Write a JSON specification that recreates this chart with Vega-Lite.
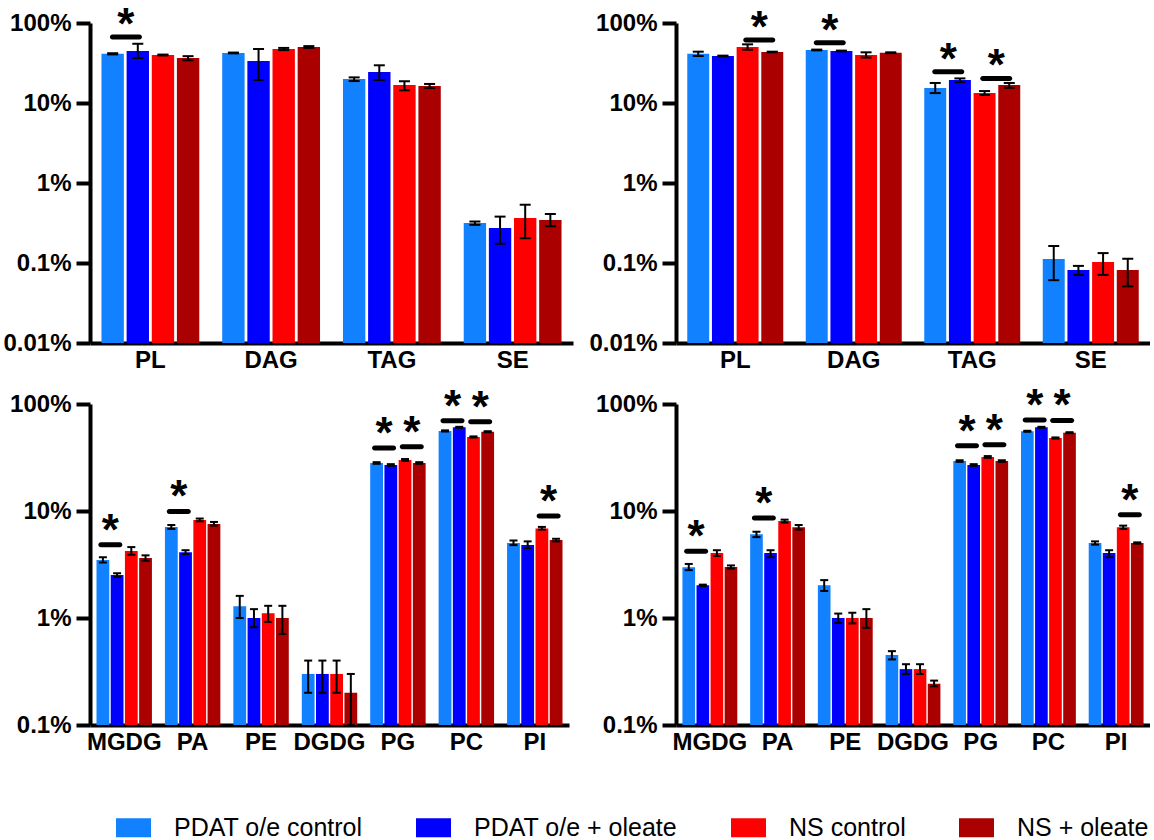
{
  "$schema": "https://vega.github.io/schema/vega-lite/v6.json",
  "padding": {"left": 2, "top": 4, "right": 0, "bottom": 0},
  "datasets": {
    "bars": [
      {"panel": "A", "cls": "PL", "cond": "PDAT o/e control", "v": 41.2, "lo": 40.5, "hi": 41.9},
      {"panel": "A", "cls": "PL", "cond": "PDAT o/e + oleate", "v": 44.6, "lo": 36.5, "hi": 55},
      {"panel": "A", "cls": "PL", "cond": "NS control", "v": 39.8, "lo": 39.3, "hi": 40.3},
      {"panel": "A", "cls": "PL", "cond": "NS + oleate", "v": 36.5, "lo": 34.2, "hi": 38.5},
      {"panel": "A", "cls": "DAG", "cond": "PDAT o/e control", "v": 42.2, "lo": 41.7, "hi": 42.7},
      {"panel": "A", "cls": "DAG", "cond": "PDAT o/e + oleate", "v": 33.5, "lo": 19.4, "hi": 47.3},
      {"panel": "A", "cls": "DAG", "cond": "NS control", "v": 47.3, "lo": 45.8, "hi": 48.8},
      {"panel": "A", "cls": "DAG", "cond": "NS + oleate", "v": 50.1, "lo": 48.8, "hi": 51.4},
      {"panel": "A", "cls": "TAG", "cond": "PDAT o/e control", "v": 20, "lo": 18.8, "hi": 20.9},
      {"panel": "A", "cls": "TAG", "cond": "PDAT o/e + oleate", "v": 24.4, "lo": 19.4, "hi": 29.6},
      {"panel": "A", "cls": "TAG", "cond": "NS control", "v": 16.8, "lo": 14.4, "hi": 18.7},
      {"panel": "A", "cls": "TAG", "cond": "NS + oleate", "v": 16.3, "lo": 15.4, "hi": 17.3},
      {"panel": "A", "cls": "SE", "cond": "PDAT o/e control", "v": 0.316, "lo": 0.3, "hi": 0.33},
      {"panel": "A", "cls": "SE", "cond": "PDAT o/e + oleate", "v": 0.274, "lo": 0.174, "hi": 0.38},
      {"panel": "A", "cls": "SE", "cond": "NS control", "v": 0.365, "lo": 0.204, "hi": 0.535},
      {"panel": "A", "cls": "SE", "cond": "NS + oleate", "v": 0.345, "lo": 0.288, "hi": 0.41},

      {"panel": "B", "cls": "PL", "cond": "PDAT o/e control", "v": 41.3, "lo": 38.7, "hi": 43.8},
      {"panel": "B", "cls": "PL", "cond": "PDAT o/e + oleate", "v": 38.7, "lo": 38.3, "hi": 39.1},
      {"panel": "B", "cls": "PL", "cond": "NS control", "v": 50.1, "lo": 46.3, "hi": 54.1},
      {"panel": "B", "cls": "PL", "cond": "NS + oleate", "v": 43.4, "lo": 43, "hi": 43.8},
      {"panel": "B", "cls": "DAG", "cond": "PDAT o/e control", "v": 46, "lo": 45.5, "hi": 46.5},
      {"panel": "B", "cls": "DAG", "cond": "PDAT o/e + oleate", "v": 44.7, "lo": 44.2, "hi": 45.2},
      {"panel": "B", "cls": "DAG", "cond": "NS control", "v": 39.8, "lo": 37, "hi": 43},
      {"panel": "B", "cls": "DAG", "cond": "NS + oleate", "v": 42.5, "lo": 42, "hi": 43},
      {"panel": "B", "cls": "TAG", "cond": "PDAT o/e control", "v": 15.4, "lo": 13.3, "hi": 17.8},
      {"panel": "B", "cls": "TAG", "cond": "PDAT o/e + oleate", "v": 19.4, "lo": 18.3, "hi": 20.3},
      {"panel": "B", "cls": "TAG", "cond": "NS control", "v": 13.3, "lo": 12.6, "hi": 14.1},
      {"panel": "B", "cls": "TAG", "cond": "NS + oleate", "v": 16.8, "lo": 15.5, "hi": 17.8},
      {"panel": "B", "cls": "SE", "cond": "PDAT o/e control", "v": 0.112, "lo": 0.061, "hi": 0.163},
      {"panel": "B", "cls": "SE", "cond": "PDAT o/e + oleate", "v": 0.082, "lo": 0.071, "hi": 0.092},
      {"panel": "B", "cls": "SE", "cond": "NS control", "v": 0.103, "lo": 0.071, "hi": 0.133},
      {"panel": "B", "cls": "SE", "cond": "NS + oleate", "v": 0.082, "lo": 0.051, "hi": 0.113},

      {"panel": "C", "cls": "MGDG", "cond": "PDAT o/e control", "v": 3.48, "lo": 3.3, "hi": 3.7},
      {"panel": "C", "cls": "MGDG", "cond": "PDAT o/e + oleate", "v": 2.52, "lo": 2.42, "hi": 2.62},
      {"panel": "C", "cls": "MGDG", "cond": "NS control", "v": 4.23, "lo": 3.9, "hi": 4.6},
      {"panel": "C", "cls": "MGDG", "cond": "NS + oleate", "v": 3.64, "lo": 3.43, "hi": 3.85},
      {"panel": "C", "cls": "PA", "cond": "PDAT o/e control", "v": 7.08, "lo": 6.8, "hi": 7.4},
      {"panel": "C", "cls": "PA", "cond": "PDAT o/e + oleate", "v": 4.11, "lo": 3.96, "hi": 4.3},
      {"panel": "C", "cls": "PA", "cond": "NS control", "v": 8.24, "lo": 8, "hi": 8.5},
      {"panel": "C", "cls": "PA", "cond": "NS + oleate", "v": 7.57, "lo": 7.3, "hi": 7.9},
      {"panel": "C", "cls": "PE", "cond": "PDAT o/e control", "v": 1.29, "lo": 1, "hi": 1.61},
      {"panel": "C", "cls": "PE", "cond": "PDAT o/e + oleate", "v": 1, "lo": 0.82, "hi": 1.21},
      {"panel": "C", "cls": "PE", "cond": "NS control", "v": 1.11, "lo": 0.92, "hi": 1.3},
      {"panel": "C", "cls": "PE", "cond": "NS + oleate", "v": 1, "lo": 0.71, "hi": 1.3},
      {"panel": "C", "cls": "DGDG", "cond": "PDAT o/e control", "v": 0.3, "lo": 0.2, "hi": 0.4},
      {"panel": "C", "cls": "DGDG", "cond": "PDAT o/e + oleate", "v": 0.3, "lo": 0.2, "hi": 0.4},
      {"panel": "C", "cls": "DGDG", "cond": "NS control", "v": 0.3, "lo": 0.2, "hi": 0.4},
      {"panel": "C", "cls": "DGDG", "cond": "NS + oleate", "v": 0.2, "lo": 0.1, "hi": 0.3},
      {"panel": "C", "cls": "PG", "cond": "PDAT o/e control", "v": 28.1, "lo": 27.6, "hi": 28.6},
      {"panel": "C", "cls": "PG", "cond": "PDAT o/e + oleate", "v": 26.9, "lo": 26.4, "hi": 27.4},
      {"panel": "C", "cls": "PG", "cond": "NS control", "v": 30, "lo": 29.4, "hi": 30.6},
      {"panel": "C", "cls": "PG", "cond": "NS + oleate", "v": 28.1, "lo": 27.6, "hi": 28.6},
      {"panel": "C", "cls": "PC", "cond": "PDAT o/e control", "v": 56, "lo": 55.3, "hi": 56.7},
      {"panel": "C", "cls": "PC", "cond": "PDAT o/e + oleate", "v": 60.5, "lo": 59.8, "hi": 61.2},
      {"panel": "C", "cls": "PC", "cond": "NS control", "v": 49.2, "lo": 48.6, "hi": 49.8},
      {"panel": "C", "cls": "PC", "cond": "NS + oleate", "v": 55.1, "lo": 54.5, "hi": 55.7},
      {"panel": "C", "cls": "PI", "cond": "PDAT o/e control", "v": 5.02, "lo": 4.8, "hi": 5.3},
      {"panel": "C", "cls": "PI", "cond": "PDAT o/e + oleate", "v": 4.81, "lo": 4.5, "hi": 5.2},
      {"panel": "C", "cls": "PI", "cond": "NS control", "v": 6.88, "lo": 6.7, "hi": 7.1},
      {"panel": "C", "cls": "PI", "cond": "NS + oleate", "v": 5.36, "lo": 5.2, "hi": 5.5},

      {"panel": "D", "cls": "MGDG", "cond": "PDAT o/e control", "v": 2.98, "lo": 2.8, "hi": 3.2},
      {"panel": "D", "cls": "MGDG", "cond": "PDAT o/e + oleate", "v": 2.02, "lo": 1.99, "hi": 2.05},
      {"panel": "D", "cls": "MGDG", "cond": "NS control", "v": 4.05, "lo": 3.8, "hi": 4.3},
      {"panel": "D", "cls": "MGDG", "cond": "NS + oleate", "v": 3, "lo": 2.9, "hi": 3.1},
      {"panel": "D", "cls": "PA", "cond": "PDAT o/e control", "v": 6.05, "lo": 5.7, "hi": 6.4},
      {"panel": "D", "cls": "PA", "cond": "PDAT o/e + oleate", "v": 4.05, "lo": 3.7, "hi": 4.3},
      {"panel": "D", "cls": "PA", "cond": "NS control", "v": 8.07, "lo": 7.8, "hi": 8.3},
      {"panel": "D", "cls": "PA", "cond": "NS + oleate", "v": 7.05, "lo": 6.7, "hi": 7.4},
      {"panel": "D", "cls": "PE", "cond": "PDAT o/e control", "v": 2.02, "lo": 1.79, "hi": 2.26},
      {"panel": "D", "cls": "PE", "cond": "PDAT o/e + oleate", "v": 1, "lo": 0.9, "hi": 1.1},
      {"panel": "D", "cls": "PE", "cond": "NS control", "v": 1, "lo": 0.89, "hi": 1.12},
      {"panel": "D", "cls": "PE", "cond": "NS + oleate", "v": 1, "lo": 0.81, "hi": 1.21},
      {"panel": "D", "cls": "DGDG", "cond": "PDAT o/e control", "v": 0.45, "lo": 0.41, "hi": 0.49},
      {"panel": "D", "cls": "DGDG", "cond": "PDAT o/e + oleate", "v": 0.333, "lo": 0.3, "hi": 0.37},
      {"panel": "D", "cls": "DGDG", "cond": "NS control", "v": 0.333, "lo": 0.3, "hi": 0.37},
      {"panel": "D", "cls": "DGDG", "cond": "NS + oleate", "v": 0.243, "lo": 0.23, "hi": 0.26},
      {"panel": "D", "cls": "PG", "cond": "PDAT o/e control", "v": 29.3, "lo": 28.8, "hi": 29.8},
      {"panel": "D", "cls": "PG", "cond": "PDAT o/e + oleate", "v": 26.9, "lo": 26.4, "hi": 27.4},
      {"panel": "D", "cls": "PG", "cond": "NS control", "v": 32, "lo": 31.4, "hi": 32.6},
      {"panel": "D", "cls": "PG", "cond": "NS + oleate", "v": 29.3, "lo": 28.8, "hi": 29.8},
      {"panel": "D", "cls": "PC", "cond": "PDAT o/e control", "v": 55.6, "lo": 55, "hi": 56.2},
      {"panel": "D", "cls": "PC", "cond": "PDAT o/e + oleate", "v": 60.5, "lo": 59.8, "hi": 61.2},
      {"panel": "D", "cls": "PC", "cond": "NS control", "v": 48.1, "lo": 47.5, "hi": 48.7},
      {"panel": "D", "cls": "PC", "cond": "NS + oleate", "v": 53.9, "lo": 53.3, "hi": 54.5},
      {"panel": "D", "cls": "PI", "cond": "PDAT o/e control", "v": 5.02, "lo": 4.85, "hi": 5.2},
      {"panel": "D", "cls": "PI", "cond": "PDAT o/e + oleate", "v": 4.05, "lo": 3.7, "hi": 4.3},
      {"panel": "D", "cls": "PI", "cond": "NS control", "v": 7.05, "lo": 6.8, "hi": 7.3},
      {"panel": "D", "cls": "PI", "cond": "NS + oleate", "v": 5.02, "lo": 4.95, "hi": 5.09}
    ],
    "sig": [
      {"panel": "A", "cls": "PL", "pair": "a", "yb": 66.8},
      {"panel": "B", "cls": "PL", "pair": "b", "yb": 61.3},
      {"panel": "B", "cls": "DAG", "pair": "a", "yb": 56.7},
      {"panel": "B", "cls": "TAG", "pair": "a", "yb": 24.6},
      {"panel": "B", "cls": "TAG", "pair": "b", "yb": 20.3},
      {"panel": "C", "cls": "MGDG", "pair": "a", "yb": 4.84},
      {"panel": "C", "cls": "PA", "pair": "a", "yb": 9.9},
      {"panel": "C", "cls": "PG", "pair": "a", "yb": 38.8},
      {"panel": "C", "cls": "PG", "pair": "b", "yb": 39.9},
      {"panel": "C", "cls": "PC", "pair": "a", "yb": 69.8},
      {"panel": "C", "cls": "PC", "pair": "b", "yb": 68.4},
      {"panel": "C", "cls": "PI", "pair": "b", "yb": 8.98},
      {"panel": "D", "cls": "MGDG", "pair": "a", "yb": 4.2},
      {"panel": "D", "cls": "PA", "pair": "a", "yb": 8.6},
      {"panel": "D", "cls": "PG", "pair": "a", "yb": 40.8},
      {"panel": "D", "cls": "PG", "pair": "b", "yb": 41.7},
      {"panel": "D", "cls": "PC", "pair": "a", "yb": 70.8},
      {"panel": "D", "cls": "PC", "pair": "b", "yb": 70.3},
      {"panel": "D", "cls": "PI", "pair": "b", "yb": 9.2}
    ]
  },
  "columns": 1,
  "align": "none",
  "spacing": 13,
  "concat": [
    {
      "bounds": "flush",
      "spacing": 103,
      "hconcat": [
        {
          "width": 483, "height": 320,
          "layer": [
            {
              "data": {"name": "bars"},
              "transform": [{"filter": "datum.panel === 'A'"}],
              "encoding": {
                "x": {"field": "cls", "type": "nominal", "title": null, "scale": {"domain": ["PL", "DAG", "TAG", "SE"], "paddingInner": 0.19, "paddingOuter": 0.095}},
                "xOffset": {"field": "cond", "type": "nominal", "scale": {"domain": ["PDAT o/e control", "PDAT o/e + oleate", "NS control", "NS + oleate"], "paddingInner": 0.11, "paddingOuter": 0}}
              },
              "layer": [
                {"mark": {"type": "bar"}, "encoding": {
                  "y": {"field": "v", "type": "quantitative", "title": null, "stack": null, "scale": {"type": "log", "domain": [0.01, 100], "nice": false}, "axis": {"values": [0.01, 0.1, 1, 10, 100], "labelExpr": "datum.value + '%'"}},
                  "color": {"field": "cond", "type": "nominal", "scale": {"domain": ["PDAT o/e control", "PDAT o/e + oleate", "NS control", "NS + oleate"], "range": ["#1181FF", "#0000FF", "#FF0000", "#AA0000"]}, "legend": {"orient": "none", "legendX": 23, "legendY": 792, "direction": "horizontal", "columns": 4, "title": null, "symbolType": "M-1,-1H2.684V1H-1Z", "symbolSize": 361, "symbolStrokeWidth": 0, "symbolOpacity": 1, "labelFont": "Liberation Sans", "labelFontSize": 25, "labelColor": "black", "labelOffset": 36, "columnPadding": 50, "labelLimit": 400, "padding": 0}}
                }},
                {"mark": {"type": "rule", "color": "black", "strokeWidth": 2}, "encoding": {"y": {"field": "lo", "type": "quantitative", "title": null}, "y2": {"field": "hi"}}},
                {"mark": {"type": "tick", "color": "black", "thickness": 2, "size": 11, "opacity": 1}, "encoding": {"y": {"field": "lo", "type": "quantitative", "title": null}}},
                {"mark": {"type": "tick", "color": "black", "thickness": 2, "size": 11, "opacity": 1}, "encoding": {"y": {"field": "hi", "type": "quantitative", "title": null}}}
              ]
            },
            {
              "data": {"name": "sig"},
              "transform": [{"filter": "datum.panel === 'A'"}],
              "encoding": {
                "x": {"field": "cls", "type": "nominal", "title": null},
                "xOffset": {"field": "pair", "type": "nominal", "scale": {"domain": ["a", "b"], "paddingInner": 0, "paddingOuter": 0}},
                "y": {"field": "yb", "type": "quantitative", "title": null}
              },
              "layer": [
                {"mark": {"type": "tick", "color": "black", "thickness": 5, "size": 32, "cornerRadius": 2.5, "opacity": 1}},
                {"mark": {"type": "text", "text": "*", "font": "Liberation Sans", "fontWeight": "bold", "fontSize": 44, "baseline": "alphabetic", "dy": 2, "color": "black"}}
              ]
            }
          ],
          "resolve": {"scale": {"xOffset": "independent"}}
        },
        {
          "width": 474, "height": 320,
          "layer": [
            {
              "data": {"name": "bars"},
              "transform": [{"filter": "datum.panel === 'B'"}],
              "encoding": {
                "x": {"field": "cls", "type": "nominal", "title": null, "scale": {"domain": ["PL", "DAG", "TAG", "SE"], "paddingInner": 0.19, "paddingOuter": 0.095}},
                "xOffset": {"field": "cond", "type": "nominal", "scale": {"domain": ["PDAT o/e control", "PDAT o/e + oleate", "NS control", "NS + oleate"], "paddingInner": 0.11, "paddingOuter": 0}}
              },
              "layer": [
                {"mark": {"type": "bar"}, "encoding": {
                  "y": {"field": "v", "type": "quantitative", "title": null, "stack": null, "scale": {"type": "log", "domain": [0.01, 100], "nice": false}, "axis": {"values": [0.01, 0.1, 1, 10, 100], "labelExpr": "datum.value + '%'"}},
                  "color": {"field": "cond", "type": "nominal", "scale": {"domain": ["PDAT o/e control", "PDAT o/e + oleate", "NS control", "NS + oleate"], "range": ["#1181FF", "#0000FF", "#FF0000", "#AA0000"]}, "legend": {"orient": "none", "legendX": 23, "legendY": 792, "direction": "horizontal", "columns": 4, "title": null, "symbolType": "M-1,-1H2.684V1H-1Z", "symbolSize": 361, "symbolStrokeWidth": 0, "symbolOpacity": 1, "labelFont": "Liberation Sans", "labelFontSize": 25, "labelColor": "black", "labelOffset": 36, "columnPadding": 50, "labelLimit": 400, "padding": 0}}
                }},
                {"mark": {"type": "rule", "color": "black", "strokeWidth": 2}, "encoding": {"y": {"field": "lo", "type": "quantitative", "title": null}, "y2": {"field": "hi"}}},
                {"mark": {"type": "tick", "color": "black", "thickness": 2, "size": 11, "opacity": 1}, "encoding": {"y": {"field": "lo", "type": "quantitative", "title": null}}},
                {"mark": {"type": "tick", "color": "black", "thickness": 2, "size": 11, "opacity": 1}, "encoding": {"y": {"field": "hi", "type": "quantitative", "title": null}}}
              ]
            },
            {
              "data": {"name": "sig"},
              "transform": [{"filter": "datum.panel === 'B'"}],
              "encoding": {
                "x": {"field": "cls", "type": "nominal", "title": null},
                "xOffset": {"field": "pair", "type": "nominal", "scale": {"domain": ["a", "b"], "paddingInner": 0, "paddingOuter": 0}},
                "y": {"field": "yb", "type": "quantitative", "title": null}
              },
              "layer": [
                {"mark": {"type": "tick", "color": "black", "thickness": 5, "size": 32, "cornerRadius": 2.5, "opacity": 1}},
                {"mark": {"type": "text", "text": "*", "font": "Liberation Sans", "fontWeight": "bold", "fontSize": 44, "baseline": "alphabetic", "dy": 2, "color": "black"}}
              ]
            }
          ],
          "resolve": {"scale": {"xOffset": "independent"}}
        }
      ]
    },
    {
      "bounds": "flush",
      "spacing": 107,
      "hconcat": [
        {
          "width": 479, "height": 321,
          "layer": [
            {
              "data": {"name": "bars"},
              "transform": [{"filter": "datum.panel === 'C'"}],
              "encoding": {
                "x": {"field": "cls", "type": "nominal", "title": null, "scale": {"domain": ["MGDG", "PA", "PE", "DGDG", "PG", "PC", "PI"], "paddingInner": 0.19, "paddingOuter": 0.095}},
                "xOffset": {"field": "cond", "type": "nominal", "scale": {"domain": ["PDAT o/e control", "PDAT o/e + oleate", "NS control", "NS + oleate"], "paddingInner": 0.1, "paddingOuter": 0}}
              },
              "layer": [
                {"mark": {"type": "bar"}, "encoding": {
                  "y": {"field": "v", "type": "quantitative", "title": null, "stack": null, "scale": {"type": "log", "domain": [0.1, 100], "nice": false}, "axis": {"values": [0.1, 1, 10, 100], "labelExpr": "datum.value + '%'"}},
                  "color": {"field": "cond", "type": "nominal", "scale": {"domain": ["PDAT o/e control", "PDAT o/e + oleate", "NS control", "NS + oleate"], "range": ["#1181FF", "#0000FF", "#FF0000", "#AA0000"]}, "legend": {"orient": "none", "legendX": 23, "legendY": 792, "direction": "horizontal", "columns": 4, "title": null, "symbolType": "M-1,-1H2.684V1H-1Z", "symbolSize": 361, "symbolStrokeWidth": 0, "symbolOpacity": 1, "labelFont": "Liberation Sans", "labelFontSize": 25, "labelColor": "black", "labelOffset": 36, "columnPadding": 50, "labelLimit": 400, "padding": 0}}
                }},
                {"mark": {"type": "rule", "color": "black", "strokeWidth": 2}, "encoding": {"y": {"field": "lo", "type": "quantitative", "title": null}, "y2": {"field": "hi"}}},
                {"mark": {"type": "tick", "color": "black", "thickness": 2, "size": 8, "opacity": 1}, "encoding": {"y": {"field": "lo", "type": "quantitative", "title": null}}},
                {"mark": {"type": "tick", "color": "black", "thickness": 2, "size": 8, "opacity": 1}, "encoding": {"y": {"field": "hi", "type": "quantitative", "title": null}}}
              ]
            },
            {
              "data": {"name": "sig"},
              "transform": [{"filter": "datum.panel === 'C'"}],
              "encoding": {
                "x": {"field": "cls", "type": "nominal", "title": null},
                "xOffset": {"field": "pair", "type": "nominal", "scale": {"domain": ["a", "b"], "paddingInner": 0, "paddingOuter": 0}},
                "y": {"field": "yb", "type": "quantitative", "title": null}
              },
              "layer": [
                {"mark": {"type": "tick", "color": "black", "thickness": 5, "size": 24, "cornerRadius": 2.5, "opacity": 1}},
                {"mark": {"type": "text", "text": "*", "font": "Liberation Sans", "fontWeight": "bold", "fontSize": 44, "baseline": "alphabetic", "dy": 0, "color": "black"}}
              ]
            }
          ],
          "resolve": {"scale": {"xOffset": "independent"}}
        },
        {
          "width": 474, "height": 321,
          "layer": [
            {
              "data": {"name": "bars"},
              "transform": [{"filter": "datum.panel === 'D'"}],
              "encoding": {
                "x": {"field": "cls", "type": "nominal", "title": null, "scale": {"domain": ["MGDG", "PA", "PE", "DGDG", "PG", "PC", "PI"], "paddingInner": 0.19, "paddingOuter": 0.095}},
                "xOffset": {"field": "cond", "type": "nominal", "scale": {"domain": ["PDAT o/e control", "PDAT o/e + oleate", "NS control", "NS + oleate"], "paddingInner": 0.1, "paddingOuter": 0}}
              },
              "layer": [
                {"mark": {"type": "bar"}, "encoding": {
                  "y": {"field": "v", "type": "quantitative", "title": null, "stack": null, "scale": {"type": "log", "domain": [0.1, 100], "nice": false}, "axis": {"values": [0.1, 1, 10, 100], "labelExpr": "datum.value + '%'"}},
                  "color": {"field": "cond", "type": "nominal", "scale": {"domain": ["PDAT o/e control", "PDAT o/e + oleate", "NS control", "NS + oleate"], "range": ["#1181FF", "#0000FF", "#FF0000", "#AA0000"]}, "legend": {"orient": "none", "legendX": 23, "legendY": 792, "direction": "horizontal", "columns": 4, "title": null, "symbolType": "M-1,-1H2.684V1H-1Z", "symbolSize": 361, "symbolStrokeWidth": 0, "symbolOpacity": 1, "labelFont": "Liberation Sans", "labelFontSize": 25, "labelColor": "black", "labelOffset": 36, "columnPadding": 50, "labelLimit": 400, "padding": 0}}
                }},
                {"mark": {"type": "rule", "color": "black", "strokeWidth": 2}, "encoding": {"y": {"field": "lo", "type": "quantitative", "title": null}, "y2": {"field": "hi"}}},
                {"mark": {"type": "tick", "color": "black", "thickness": 2, "size": 8, "opacity": 1}, "encoding": {"y": {"field": "lo", "type": "quantitative", "title": null}}},
                {"mark": {"type": "tick", "color": "black", "thickness": 2, "size": 8, "opacity": 1}, "encoding": {"y": {"field": "hi", "type": "quantitative", "title": null}}}
              ]
            },
            {
              "data": {"name": "sig"},
              "transform": [{"filter": "datum.panel === 'D'"}],
              "encoding": {
                "x": {"field": "cls", "type": "nominal", "title": null},
                "xOffset": {"field": "pair", "type": "nominal", "scale": {"domain": ["a", "b"], "paddingInner": 0, "paddingOuter": 0}},
                "y": {"field": "yb", "type": "quantitative", "title": null}
              },
              "layer": [
                {"mark": {"type": "tick", "color": "black", "thickness": 5, "size": 24, "cornerRadius": 2.5, "opacity": 1}},
                {"mark": {"type": "text", "text": "*", "font": "Liberation Sans", "fontWeight": "bold", "fontSize": 44, "baseline": "alphabetic", "dy": 0, "color": "black"}}
              ]
            }
          ],
          "resolve": {"scale": {"xOffset": "independent"}}
        }
      ]
    }
  ],
  "config": {
    "view": {"stroke": null},
    "axis": {"domainColor": "black", "domainWidth": 4, "tickColor": "black", "tickWidth": 4, "tickSize": 14, "labelFont": "Liberation Sans", "labelFontWeight": "bold", "labelFontSize": 24, "labelColor": "black", "grid": false, "labelOverlap": false, "labelFlush": false},
    "axisX": {"ticks": false, "tickSize": 0, "labelPadding": 5, "labelAngle": 0},
    "axisY": {"labelPadding": 5}
  }
}
